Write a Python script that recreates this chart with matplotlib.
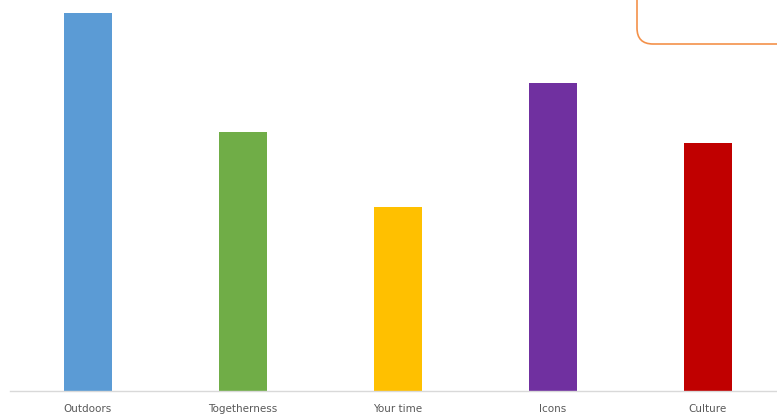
import matplotlib.pyplot as plt
from matplotlib.patches import FancyBboxPatch

categories = ['Outdoors', 'Togetherness', 'Your time', 'Icons', 'Culture']
values = [378, 259, 184, 308, 248]
colors = ['#5B9BD5', '#70AD47', '#FFC000', '#7030A0', '#C00000']

W, H = 777, 415
fig = plt.figure(figsize=(W / 100, H / 100), dpi=100)

# main bar axes, baseline at y=391px from top
ax = fig.add_axes([10 / W, (H - 391) / H, (W - 10) / W, 391 / H])
x = range(len(categories))
ax.bar(x, values, width=0.31, color=colors, zorder=2)
ax.set_xlim(-0.5, (W - 88) / 155)
ax.set_ylim(0, 391)
ax.set_xticks(list(x))
ax.set_xticklabels(categories, fontsize=7.5, color='#595959')
ax.tick_params(axis='x', length=0, pad=9)
ax.set_yticks([])
for s in ['top', 'right', 'left']:
    ax.spines[s].set_visible(False)
ax.spines['bottom'].set_color('#d9d9d9')
ax.spines['bottom'].set_linewidth(1)

# partial rounded box in the top right corner
over = fig.add_axes([0, 0, 1, 1], zorder=5)
over.set_xlim(0, W)
over.set_ylim(H, 0)
over.axis('off')
over.patch.set_alpha(0)
box = FancyBboxPatch((637, -40), 200, 84,
                     boxstyle='round,pad=0,rounding_size=16',
                     fill=False, edgecolor='#F4914A', linewidth=1.2)
over.add_patch(box)

fig.savefig('out.png', dpi=100)
